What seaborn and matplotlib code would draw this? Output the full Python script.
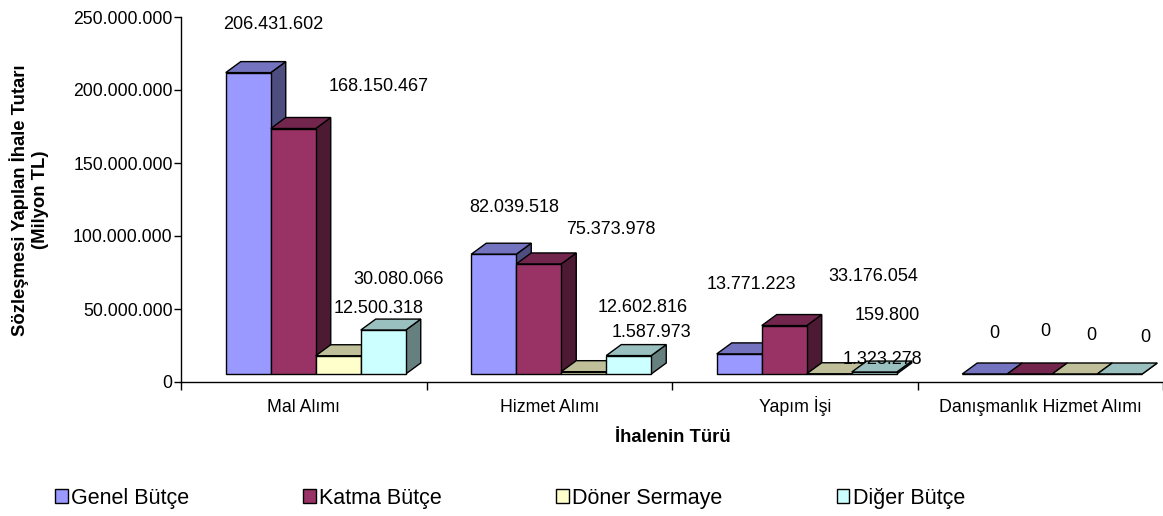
import pandas as pd
import seaborn as sns
import matplotlib.pyplot as plt
from matplotlib.patches import Polygon, Patch
from matplotlib.ticker import FuncFormatter, FixedLocator

# Veriler (TL)
turler = ["Mal Alımı", "Hizmet Alımı", "Yapım İşi", "Danışmanlık Hizmet Alımı"]
butceler = ["Genel Bütçe", "Katma Bütçe", "Döner Sermaye", "Diğer Bütçe"]
genel = [206431602, 82039518, 13771223, 0]
katma = [168150467, 75373978, 33176054, 0]
doner = [12500318, 1587973, 159800, 0]
diger = [30080066, 12602816, 1323278, 0]

renkler = ["#9999FF", "#993366", "#FFFFCC", "#CCFFFF"]

# etiket kaydirma (piksel), [tur][butce]
etiket_kaydir = [
    [(25, 48), (85, 42), (40, 47), (15, 51)],
    [(21, 47), (72, 34), (68, 39), (14, 48)],
    [(12, 69), (89, 49), (58, 58), (8, 13)],
    [(10, 41), (16, 43), (17, 39), (26, 36)],
]

db = pd.DataFrame({
    "tur": turler * 4,
    "butce": [b for b in butceler for _ in turler],
    "tutar": genel + katma + doner + diger,
})

sns.set_theme(style="white")
plt.rcParams["font.family"] = ["Liberation Sans", "DejaVu Sans"]
for k in ["text.color", "axes.labelcolor", "xtick.color", "ytick.color"]:
    plt.rcParams[k] = "black"

W, H = 1163, 516
fig = plt.figure(figsize=(W / 100, H / 100), dpi=100)
ax_l, ax_r, ax_t, ax_b = 181, 1163, 17, 382
ax = fig.add_axes([ax_l / W, 1 - ax_b / H, (ax_r - ax_l) / W, (ax_b - ax_t) / H])

kat_px = (ax_r - ax_l) / 4  # bir kategori genisligi
bar_px = 45
sns.barplot(data=db, x="tur", y="tutar", hue="butce", order=turler, hue_order=butceler,
            palette=renkler, saturation=1, width=4 * bar_px / kat_px, gap=0,
            edgecolor="black", linewidth=1, legend=False, ax=ax)

ax.set_xlim(-0.5, 3.5)
ax.set_ylim(0, 250_000_000)

# 3B gorunum
x_px = 1 / kat_px                      # veri birimi / piksel (x)
y_px = 250_000_000 / (ax_b - ax_t)     # veri birimi / piksel (y)
dx, dy = 15 * x_px, 11 * y_px
kay_x, kay_y = 12 * x_px, 8 * y_px


def koyu(renk, k):
    r, g, b = plt.matplotlib.colors.to_rgb(renk)
    return (r * k, g * k, b * k)


for i, cont in enumerate(ax.containers):
    for j, bar in enumerate(cont):
        x0 = bar.get_x() + kay_x
        w = bar.get_width()
        h = bar.get_height()
        bar.set_x(x0)
        bar.set_y(kay_y)
        bar.set_zorder(3 + i + 0.2)
        y0, y1 = kay_y, kay_y + h
        yan = Polygon([(x0 + w, y0), (x0 + w + dx, y0 + dy), (x0 + w + dx, y1 + dy), (x0 + w, y1)],
                      closed=True, facecolor=koyu(renkler[i], 0.5), edgecolor="black", lw=1,
                      zorder=3 + i + 0.1)
        ust = Polygon([(x0, y1), (x0 + dx, y1 + dy), (x0 + w + dx, y1 + dy), (x0 + w, y1)],
                      closed=True, facecolor=koyu(renkler[i], 0.75), edgecolor="black", lw=1,
                      zorder=3 + i + 0.1)
        ax.add_patch(yan)
        ax.add_patch(ust)
        deger = [genel, katma, doner, diger][i][j]
        etiket = f"{deger:,}".replace(",", ".")
        ax.annotate(etiket, (x0 + w / 2, y1), xytext=etiket_kaydir[j][i],
                    textcoords="offset pixels", ha="center", va="center",
                    fontsize=13, color="black", zorder=20, annotation_clip=False)

# eksenler
for s in ["top", "right"]:
    ax.spines[s].set_visible(False)
for s in ["left", "bottom"]:
    ax.spines[s].set_color("black")
    ax.spines[s].set_linewidth(1)

ax.yaxis.set_major_locator(FixedLocator([0, 50e6, 100e6, 150e6, 200e6, 250e6]))
ax.yaxis.set_major_formatter(FuncFormatter(lambda v, p: f"{int(v):,}".replace(",", ".")))
ax.tick_params(axis="y", which="major", left=True, direction="out", length=5, width=1,
               color="black", labelcolor="black", labelsize=12.7, pad=1)
ax.set_xticks(range(4))
ax.set_xticklabels(turler)
ax.set_xticks([-0.5, 0.5, 1.5, 2.5, 3.5], minor=True)
ax.tick_params(axis="x", which="major", length=0, labelsize=12.8, labelcolor="black", pad=21.5)
ax.tick_params(axis="x", which="minor", bottom=True, direction="out", length=6, width=1, color="black")
for lbl in ax.get_xticklabels():
    lbl.set_va("baseline")
ax.set_xlabel("")
ax.set_ylabel("")

fig.text(29 / W, 1 - 200 / H, "Sözleşmesi Yapılan İhale Tutarı\n(Milyon TL)", rotation=90,
         ha="center", va="center", fontsize=13.3, fontweight="bold", multialignment="center",
         color="black")
fig.text(673 / W, 1 - 438 / H, "İhalenin Türü", ha="center", va="center",
         fontsize=13.3, fontweight="bold", color="black")

tutamac = [Patch(facecolor=c, edgecolor="black", lw=1) for c in renkler]
leg = fig.legend(tutamac, butceler, loc="lower left", bbox_to_anchor=(40 / W, -0.015, 940 / W, 0.075),
                 mode="expand", ncol=4, frameon=False, fontsize=15.5, handlelength=0.6,
                 handleheight=0.6, handletextpad=0.15, borderpad=0.2)
for t in leg.get_texts():
    t.set_color("black")

fig.savefig("out.png", dpi=100)
